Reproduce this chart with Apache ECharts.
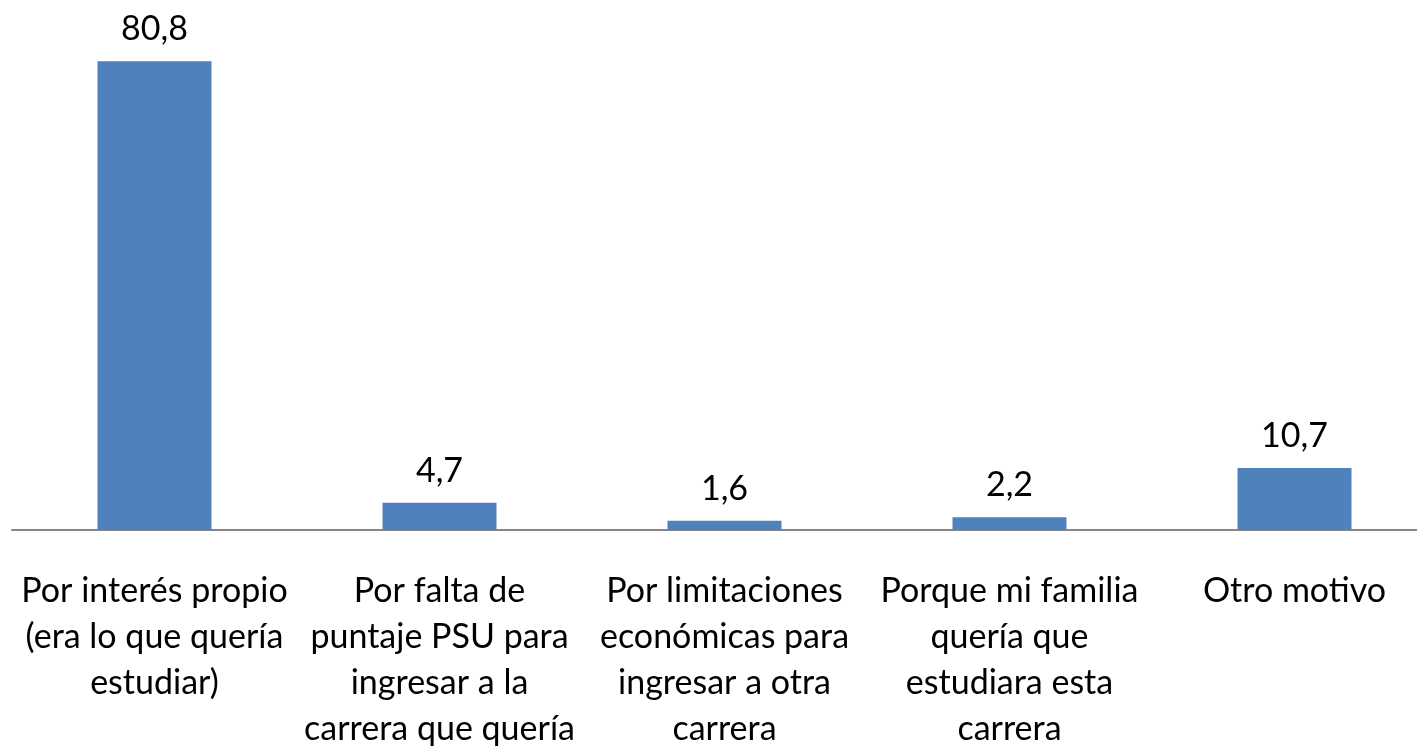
<!DOCTYPE html>
<html>
<head>
<meta charset="utf-8">
<script src="https://cdn.jsdelivr.net/npm/echarts@6/dist/echarts.min.js"></script>
<style>
  html, body { margin: 0; padding: 0; background: #fff; }
  #chart { width: 1417px; height: 746px; }
</style>
</head>
<body>
<div id="chart"></div>
<script>
// Motivos de elección de carrera (%)
const categories = [
  'Por interés propio\n(era lo que quería\nestudiar)',
  'Por falta de\npuntaje PSU para\ningresar a la\ncarrera que quería',
  'Por limitaciones\neconómicas para\ningresar a otra\ncarrera',
  'Porque mi familia\nquería que\nestudiara esta\ncarrera',
  'Otro motivo'
];
const values = [80.8, 4.7, 1.6, 2.2, 10.7];

const FONT = 'Lato, "Open Sans", sans-serif';

const chart = echarts.init(document.getElementById('chart'), null, { renderer: 'canvas' });
chart.setOption({
  animation: false,
  grid: {
    left: 12, top: 8, width: 1425, height: 522,
    containLabel: false,
    outerBoundsMode: 'none'
  },
  xAxis: {
    type: 'category',
    data: categories,
    axisLine: { show: true, lineStyle: { color: '#868686', width: 2 } },
    axisTick: { show: false },
    axisLabel: {
      interval: 0,
      margin: 38,
      color: '#000000',
      fontFamily: FONT,
      fontSize: 34,
      lineHeight: 46,
      align: 'center'
    }
  },
  yAxis: {
    type: 'value',
    min: 0,
    max: 90,
    show: false,
    splitLine: { show: false }
  },
  series: [{
    type: 'bar',
    data: values,
    barWidth: '40%',
    itemStyle: { color: '#4f81bd' },
    label: {
      show: true,
      position: 'top',
      distance: 15,
      color: '#000000',
      fontFamily: FONT,
      fontSize: 34,
      formatter: p => p.value.toFixed(1).replace('.', ',')
    }
  }]
});
</script>
</body>
</html>
